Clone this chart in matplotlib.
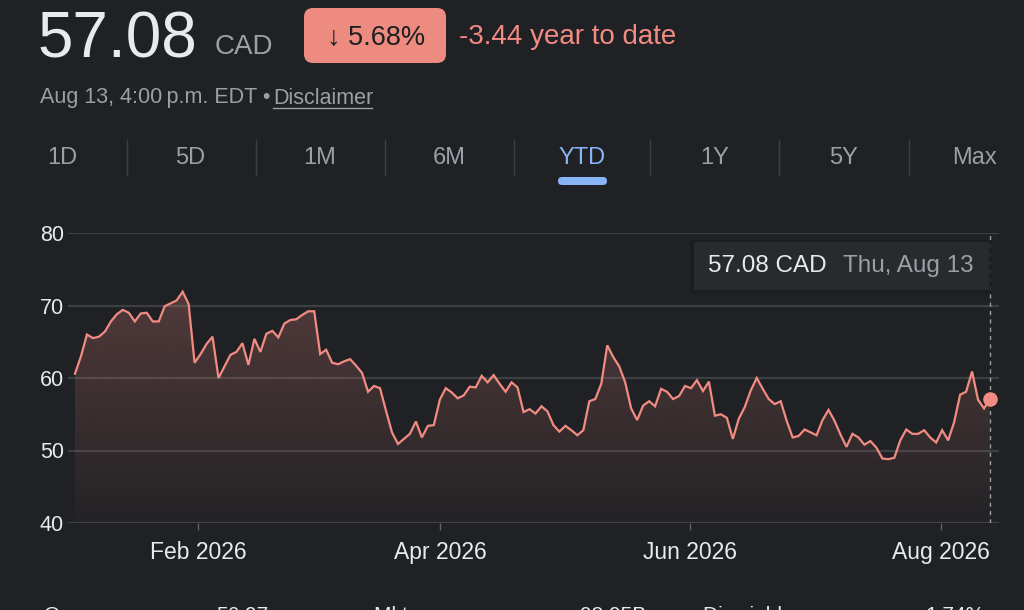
import matplotlib
matplotlib.use("Agg")
import matplotlib.pyplot as plt
import matplotlib.dates as mdates
from matplotlib.patches import Polygon, FancyBboxPatch, Rectangle
import numpy as np
import pandas as pd

# closing prices, CAD (Jan 2 -> Aug 13 2026)
prices = [
    60.6, 63.0, 66.0, 65.5, 65.7, 66.4, 67.8, 68.8, 69.4, 69.0,
    67.8, 68.9, 69.0, 67.8, 67.8, 69.9, 70.3, 70.7, 71.9, 70.2,
    62.1, 63.3, 64.7, 65.7, 60.0, 61.6, 63.2, 63.6, 64.8, 61.8,
    65.4, 63.6, 66.1, 66.5, 65.6, 67.5, 68.0, 68.1, 68.7, 69.2,
    69.2, 63.3, 63.9, 62.1, 61.9, 62.3, 62.6, 61.7, 60.7, 58.1,
    58.9, 58.6, 55.5, 52.5, 50.9, 51.6, 52.3, 54.0, 51.8, 53.4,
    53.5, 57.0, 58.6, 58.0, 57.2, 57.6, 58.8, 58.7, 60.3, 59.4,
    60.4, 59.2, 58.1, 59.4, 58.7, 55.3, 55.7, 55.1, 56.1,
    55.4, 53.5, 52.6, 53.4, 52.8, 52.1, 52.8, 56.8, 57.1, 59.2,
    64.5, 62.9, 61.6, 59.4, 55.8, 54.2, 56.2, 56.8, 56.1, 58.5,
    58.1, 57.1, 57.5, 58.9, 58.6, 59.7, 58.2, 59.5, 54.8, 55.0,
    54.5, 51.6, 54.4, 56.0, 58.3, 60.0, 58.5, 57.1, 56.4,
    56.8, 54.1, 51.8, 52.0, 52.9, 52.5, 52.1, 54.2, 55.6, 54.1,
    52.2, 50.5, 52.3, 51.8, 50.8, 51.3, 50.4, 48.9, 48.8, 49.0,
    51.4, 52.9, 52.3, 52.3, 52.8, 51.8, 51.1, 52.8, 51.4, 53.9,
    57.7, 58.1, 60.9, 57.0, 55.8, 57.08,
]
dates = pd.date_range("2026-01-02", "2026-08-13", periods=len(prices))

tick_dates = pd.to_datetime(["2026-02-01", "2026-04-01", "2026-06-01", "2026-08-01"])
tick_labels = ["Feb 2026", "Apr 2026", "Jun 2026", "Aug 2026"]
y_ticks = [40, 50, 60, 70, 80]

tabs = ["1D", "5D", "1M", "6M", "YTD", "1Y", "5Y", "Max"]
stats_labels = ["Open", "Mkt cap", "Div yield"]
stats_values = ["56.97", "98.95B", "1.74%"]

BG = "#202124"
RED = "#f28b82"
GREY = "#9aa0a6"
LIGHT = "#e8eaed"
BLUE = "#8ab4f8"
GRID = "#3c4043"

plt.rcParams["font.family"] = ["Liberation Sans", "DejaVu Sans"]

W, H = 1024, 610
fig = plt.figure(figsize=(W / 100, H / 100), dpi=100, facecolor=BG)

# ---- chart ----
ax = fig.add_axes([68 / W, 1 - 523 / H, (999 - 68) / W, (523 - 233) / H])
ax.set_facecolor("none")
xs = mdates.date2num(dates)
day_px = (990 - 75) / (xs[-1] - xs[0])
ax.set_xlim(xs[0] - 7 / day_px, xs[-1] + 9 / day_px)
ax.set_ylim(40, 80)
for s in ax.spines.values():
    s.set_visible(False)

ax.set_yticks(y_ticks)
ax.grid(axis="y", color=GRID, lw=1.6)
ax.set_axisbelow(True)
ax.tick_params(axis="y", length=0, pad=3, labelsize=15.5, labelcolor=LIGHT)
ax.set_xticks(mdates.date2num(tick_dates))
ax.set_xticklabels(tick_labels)
ax.tick_params(axis="x", length=5, width=1, color="#5f6368", pad=8,
               labelsize=16.5, labelcolor=LIGHT)

# gradient under the line
verts = [(xs[0], 40)] + list(zip(xs, prices)) + [(xs[-1], 40)]
clip = Polygon(verts, closed=True, facecolor="none", edgecolor="none")
ax.add_patch(clip)
grad = np.zeros((200, 1, 4))
grad[:, 0, 0] = 242 / 255
grad[:, 0, 1] = 139 / 255
grad[:, 0, 2] = 130 / 255
grad[:, 0, 3] = np.linspace(0.02, 0.24, 200)
img = ax.imshow(grad, extent=[xs[0], xs[-1], 40, 72], aspect="auto",
                origin="lower", zorder=1)
img.set_clip_path(clip)

ax.plot(xs, prices, color=RED, lw=1.6, zorder=3, solid_joinstyle="miter")
ax.axvline(xs[-1], color=GREY, lw=1, ls=(0, (3, 3)), zorder=2)
ax.scatter([xs[-1]], [prices[-1]], s=110, color=RED, zorder=4, linewidths=0)

# ---- page elements in pixel coords ----
ov = fig.add_axes([0, 0, 1, 1], zorder=5)
ov.set_xlim(0, W)
ov.set_ylim(H, 0)
ov.axis("off")
ov.patch.set_alpha(0)

ov.text(38, 40, "57.08", fontsize=46, color=LIGHT, va="center", ha="left")
ov.text(215, 47, "CAD", fontsize=20, color=GREY, va="center", ha="left")

ov.add_patch(FancyBboxPatch((304, 8), 142, 55, boxstyle="round,pad=0,rounding_size=9",
                            facecolor="#ee8b81", edgecolor="none"))
ov.text(376, 37, "\u2193 5.68%", fontsize=19.5, color="#1e1f22", va="center", ha="center")
ov.text(459, 37, "-3.44 year to date", fontsize=20, color=RED, va="center", ha="left")

ov.text(40, 98, "Aug 13, 4:00\u2009p.m. EDT \u2022", fontsize=15.5, color=GREY,
        va="center", ha="left")
ov.text(273, 98, "Disclaimer", fontsize=15.5, color=GREY, va="center", ha="left")
ov.plot([273, 372], [107.5, 107.5], color=GREY, lw=1)

tab_x = [62, 190, 320, 449, 582, 715, 844, 975]
for name, tx in zip(tabs, tab_x):
    ov.text(tx, 158, name, fontsize=17, color=BLUE if name == "YTD" else GREY,
            va="center", ha="center")
for sx in [127, 256, 385, 514, 650, 779, 909]:
    ov.plot([sx, sx], [140, 175], color=GRID, lw=1)
ov.add_patch(FancyBboxPatch((558, 177), 49, 8, boxstyle="round,pad=0,rounding_size=4",
                            facecolor=BLUE, edgecolor="none"))

# tooltip
ov.add_patch(Rectangle((690, 240), 302, 54, facecolor="#1b1c1f", edgecolor="none", alpha=0.8))
ov.add_patch(Rectangle((694, 242), 295, 48, facecolor="#292a2e", edgecolor="none"))
ov.text(708, 266, "57.08 CAD", fontsize=17.5, color=LIGHT, va="center", ha="left")
ov.text(843, 266, "Thu, Aug 13", fontsize=17.5, color=GREY, va="center", ha="left")

# stats row, cut off by the bottom edge in the original screenshot
for lab, val, lx, vx in zip(stats_labels, stats_values, [44, 374, 703], [268, 646, 985]):
    ov.text(lx, 606, lab, fontsize=15, color=LIGHT, va="top", ha="left")
    ov.text(vx, 606, val, fontsize=15, color=LIGHT, va="top", ha="right")

fig.savefig("out.png", dpi=100, facecolor=BG)
